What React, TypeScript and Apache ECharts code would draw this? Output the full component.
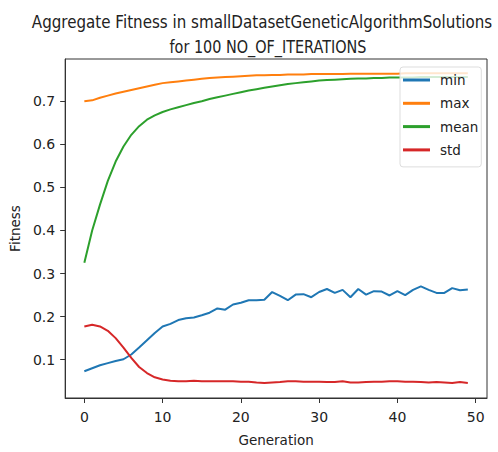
import React, { useEffect, useRef } from "react";
import * as echarts from "echarts";

const generations = [0,1,2,3,4,5,6,7,8,9,10,11,12,13,14,15,16,17,18,19,20,21,22,23,24,25,26,27,28,29,30,31,32,33,34,35,36,37,38,39,40,41,42,43,44,45,46,47,48,49];

const minValues = [0.073,0.080,0.087,0.092,0.097,0.101,0.112,0.128,0.145,0.162,0.177,0.183,0.192,0.196,0.198,0.203,0.209,0.219,0.216,0.228,0.232,0.238,0.238,0.239,0.257,0.248,0.238,0.251,0.252,0.245,0.257,0.264,0.255,0.262,0.245,0.264,0.251,0.259,0.258,0.249,0.259,0.250,0.262,0.270,0.262,0.255,0.255,0.266,0.261,0.263];

const maxValues = [0.700,0.702,0.708,0.713,0.718,0.722,0.726,0.730,0.734,0.738,0.742,0.744,0.746,0.748,0.750,0.752,0.754,0.755,0.756,0.757,0.758,0.759,0.760,0.760,0.761,0.761,0.762,0.762,0.762,0.763,0.763,0.763,0.763,0.763,0.764,0.764,0.764,0.764,0.764,0.764,0.764,0.765,0.765,0.765,0.765,0.765,0.765,0.765,0.765,0.765];

const meanValues = [0.325,0.400,0.460,0.515,0.560,0.595,0.622,0.642,0.657,0.667,0.675,0.681,0.686,0.691,0.696,0.700,0.705,0.709,0.713,0.717,0.721,0.725,0.728,0.731,0.734,0.737,0.740,0.742,0.744,0.746,0.748,0.749,0.750,0.751,0.752,0.753,0.753,0.754,0.754,0.755,0.755,0.755,0.755,0.756,0.756,0.756,0.756,0.756,0.756,0.756];

const stdValues = [0.177,0.181,0.177,0.167,0.150,0.128,0.104,0.083,0.069,0.059,0.054,0.051,0.050,0.050,0.051,0.050,0.050,0.050,0.050,0.050,0.049,0.049,0.047,0.046,0.047,0.048,0.050,0.050,0.049,0.049,0.049,0.048,0.048,0.050,0.047,0.047,0.048,0.049,0.049,0.050,0.050,0.049,0.049,0.048,0.047,0.048,0.047,0.046,0.048,0.046];

const xTicks = [0, 10, 20, 30, 40, 50];
const yTicks = [0.1, 0.2, 0.3, 0.4, 0.5, 0.6, 0.7];

const titleLine1 = "Aggregate Fitness in smallDatasetGeneticAlgorithmSolutions";
const titleLine2 = "for 100 NO_OF_ITERATIONS";

const FONT = "'DejaVu Sans', sans-serif";
const TEXT = "#222";

export default function App() {
  const ref = useRef<HTMLDivElement>(null);
  useEffect(() => {
    if (!ref.current) return;
    const chart = echarts.init(ref.current, null, { renderer: "svg" });
    const mk = (name: string, vals: number[], color: string) => ({
      name,
      type: "line",
      data: generations.map((g, i) => [g, vals[i]]),
      showSymbol: false,
      symbol: "none",
      lineStyle: { color, width: 2 },
      itemStyle: { color },
      z: 2,
    });
    chart.setOption({
      animation: false,
      backgroundColor: "#fff",
      textStyle: { fontFamily: FONT },
      graphic: [
        {
          type: "text",
          x: 262,
          y: 22,
          scaleX: 0.84,
          style: { text: titleLine1, fill: TEXT, font: `18px ${FONT}`, align: "center", verticalAlign: "middle" },
        },
        {
          type: "text",
          x: 268,
          y: 47,
          scaleX: 0.8,
          style: { text: titleLine2, fill: TEXT, font: `18px ${FONT}`, align: "center", verticalAlign: "middle" },
        },
      ],
      grid: { left: 61, right: 11, top: 59, bottom: 49, show: true, borderColor: "#333", borderWidth: 1, containLabel: false },
      xAxis: {
        type: "value",
        min: -2.45,
        max: 51.45,
        name: "Generation",
        nameLocation: "middle",
        nameGap: 35,
        nameTextStyle: { fontSize: 13.5, color: TEXT, fontFamily: FONT },
        axisLine: { show: true, onZero: false, lineStyle: { color: "#333" } },
        axisTick: { show: true, length: 5, lineStyle: { color: "#333" }, customValues: xTicks },
        axisLabel: { customValues: xTicks, margin: 12, fontSize: 14, color: TEXT, fontFamily: FONT },
        splitLine: { show: false },
      },
      yAxis: {
        type: "value",
        min: 0.011,
        max: 0.798,
        name: "Fitness",
        nameLocation: "middle",
        nameGap: 40,
        nameTextStyle: { fontSize: 13.5, color: TEXT, fontFamily: FONT },
        axisLine: { show: true, onZero: false, lineStyle: { color: "#333" } },
        axisTick: { show: true, length: 5, lineStyle: { color: "#333" }, customValues: yTicks },
        axisLabel: {
          customValues: yTicks,
          margin: 10,
          fontSize: 14,
          color: TEXT,
          fontFamily: FONT,
          formatter: (v: number) => v.toFixed(1),
        },
        splitLine: { show: false },
      },
      legend: {
        orient: "vertical",
        left: 400,
        top: 67,
        padding: [6, 3, 10, 3],
        itemWidth: 27,
        itemHeight: 3,
        itemGap: 9.3,
        icon: "rect",
        backgroundColor: "rgba(255,255,255,0.8)",
        borderColor: "#ddd",
        borderWidth: 1,
        borderRadius: 3,
        textStyle: { fontSize: 13.5, color: TEXT, fontFamily: FONT, lineHeight: 14, padding: [0, 0, 0, 5] },
        data: ["min", "max", "mean", "std"],
        z: 10,
      },
      series: [
        mk("min", minValues, "#1f77b4"),
        mk("max", maxValues, "#ff7f0e"),
        mk("mean", meanValues, "#2ca02c"),
        mk("std", stdValues, "#d62728"),
      ],
    });
    return () => chart.dispose();
  }, []);
  return <div ref={ref} style={{ width: 498, height: 452, position: "absolute", left: 0, top: 0 }} />;
}
